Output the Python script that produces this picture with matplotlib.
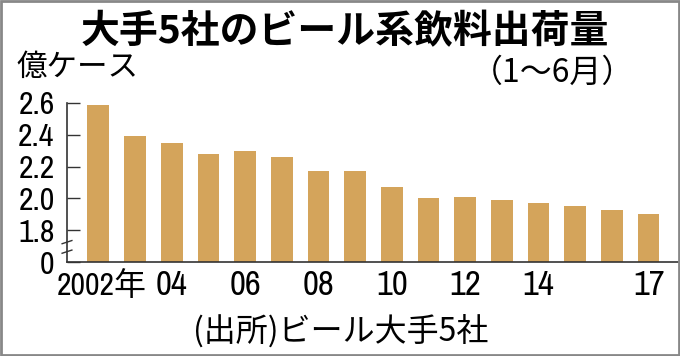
import numpy as np
import matplotlib
matplotlib.use("Agg")
import matplotlib.pyplot as plt
import matplotlib.transforms as mtransforms
from matplotlib.patches import Rectangle

plt.rcParams['font.family'] = ['Noto Sans CJK JP', 'DejaVu Sans']

years = list(range(2002, 2018))
values = [2.59, 2.39, 2.35, 2.28, 2.30, 2.26, 2.17, 2.17,
          2.07, 2.00, 2.01, 1.99, 1.97, 1.955, 1.925, 1.90]
xtick_years = [2002, 2004, 2006, 2008, 2010, 2012, 2014, 2017]
xtick_labels = ["2002年", "04", "06", "08", "10", "12", "14", "17"]
ytick_values = [0, 1.8, 2.0, 2.2, 2.4, 2.6]
ytick_labels = ["0", "1.8", "2.0", "2.2", "2.4", "2.6"]

title = "大手5社のビール系飲料出荷量"
unit = "億ケース"
period = "（1〜6月）"
source = "(出所)ビール大手5社"

bar_color = "#D4A45B"
num_font = ['Archivo Narrow', 'Noto Sans CJK JP', 'DejaVu Sans']

def fwd(v):
    v = np.asarray(v, dtype=float)
    return np.where(v <= 1.8, v / 9.0, v - 1.6)

def inv(d):
    d = np.asarray(d, dtype=float)
    return np.where(d <= 0.2, d * 9.0, d + 1.6)

fig = plt.figure(figsize=(6.8, 3.56), dpi=100)
ax = fig.add_axes([67/680, 1 - 262/356, (678-67)/680, 159/356])
ax.set_yscale('function', functions=(fwd, inv))

idx = np.arange(len(years))
ax.bar(idx, values, width=0.59, color=bar_color, edgecolor='none', zorder=2)

ax.set_xlim(-0.853, 15.8)
ax.set_ylim(0, 2.6)

ax.set_yticks(ytick_values)
ax.set_yticklabels(ytick_labels, fontfamily=num_font, fontsize=23)
ax.yaxis.set_minor_locator(matplotlib.ticker.NullLocator())
ax.tick_params(axis='y', direction='in', length=9.5, width=1.0, color='#333333', pad=9)

xpos = [years.index(y) for y in xtick_years]
ax.set_xticks(xpos)
ax.set_xticklabels(xtick_labels, fontfamily=num_font, fontsize=25)
ax.tick_params(axis='x', length=0, pad=5)

# the first (wider) x label: slightly smaller and nudged right, as in the reference
first = ax.get_xticklabels()[0]
first.set_fontsize(23)
first.set_transform(first.get_transform() +
                    mtransforms.ScaledTranslation(3/100, -1/100, fig.dpi_scale_trans))

for s in ['top', 'right']:
    ax.spines[s].set_visible(False)
for s in ['left', 'bottom']:
    ax.spines[s].set_color('#333333')
    ax.spines[s].set_linewidth(1.2)

# axis break marks
for yb in [0.125, 0.065]:
    ax.plot([-0.008, 0.008], [yb - 0.01, yb + 0.01], transform=ax.transAxes,
            color='#333333', lw=1.0, clip_on=False, zorder=5)

fig.text(345/680, 1 - 32/356, title, ha='center', va='center', fontsize=28, fontweight='bold')
fig.text(16/680, 1 - 67/356, unit, ha='left', va='center', fontsize=22)
fig.text(634/680, 1 - 73/356, period, ha='right', va='center', fontsize=23)
fig.text(341/680, 1 - 331/356, source, ha='center', va='center', fontsize=23)

fig.patches.append(Rectangle((0.0015, 0.003), 0.997, 0.994, transform=fig.transFigure,
                             fill=False, edgecolor='#888888', lw=2))

fig.savefig("out.png", dpi=100)
